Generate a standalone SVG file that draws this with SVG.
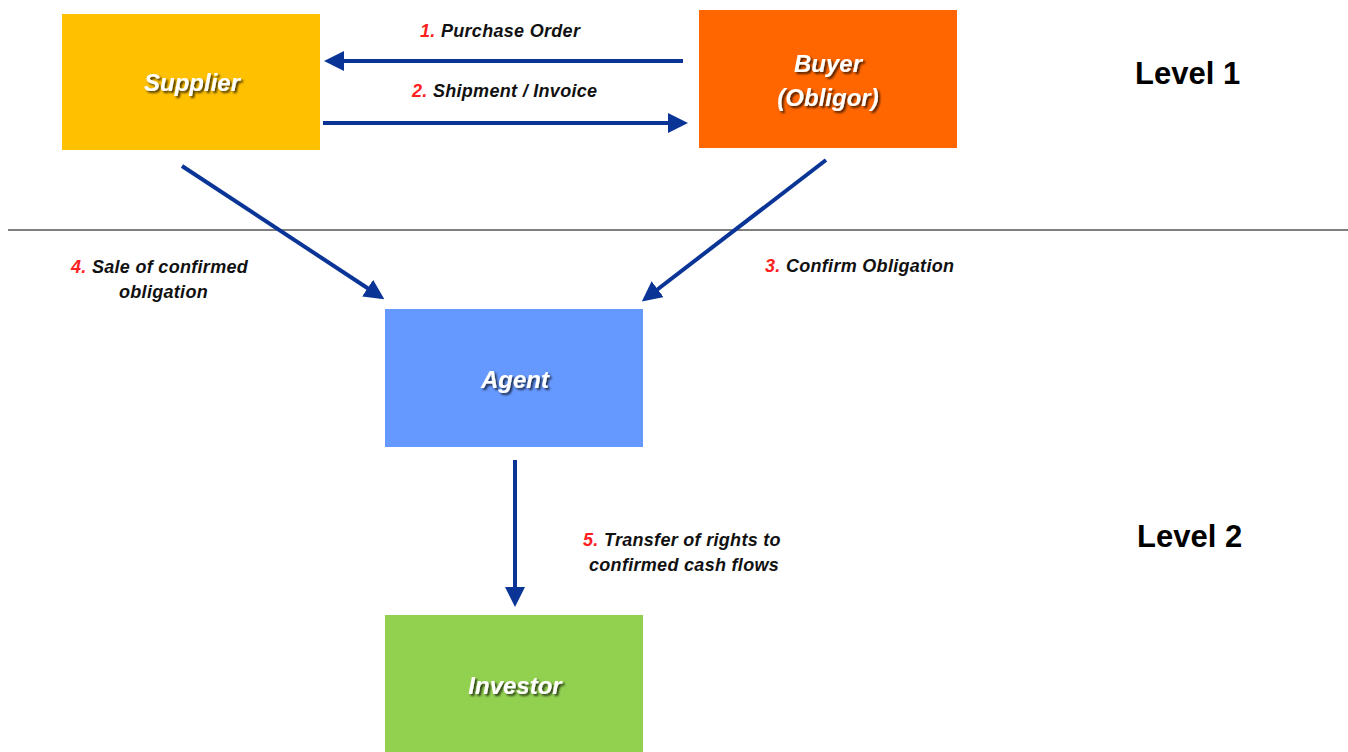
<svg xmlns="http://www.w3.org/2000/svg" width="1348" height="752" viewBox="0 0 1348 752">
<style>
.node{font-family:"Liberation Sans",Arial,sans-serif;font-weight:bold;font-style:italic;font-size:24px;fill:#fff;text-anchor:middle}
.lbl{font-family:"Liberation Sans",Arial,sans-serif;font-weight:bold;font-style:italic;font-size:18px;letter-spacing:0.3px;fill:#111}
.num{fill:#ff2020}
.lvl{font-family:"Liberation Sans",Arial,sans-serif;font-weight:bold;font-size:31px;fill:#000}
.conn{stroke:#0a3596;stroke-width:4;fill:none;marker-end:url(#ah)}
</style>
<defs>
<marker id="ah" markerWidth="5" markerHeight="5" refX="4" refY="2.5" orient="auto" markerUnits="strokeWidth">
<path d="M0,0 L5,2.5 L0,5 z" fill="#0a3596"/>
</marker>
<filter id="sh" x="-20%" y="-20%" width="140%" height="140%">
<feDropShadow dx="2" dy="2" stdDeviation="1" flood-color="#000" flood-opacity="0.7"/>
</filter>
</defs>
<rect width="1348" height="752" fill="#fff"/>
<line x1="8" y1="230" x2="1348" y2="230" stroke="#555" stroke-width="1.5"/>
<g id="supplier"><rect x="62" y="14" width="258" height="136" fill="#ffc000"/><text class="node" x="192" y="91" filter="url(#sh)">Supplier</text></g>
<g id="buyer"><rect x="699" y="10" width="258" height="138" fill="#ff6600"/><text class="node" x="828" y="72" filter="url(#sh)">Buyer</text><text class="node" x="828" y="106" filter="url(#sh)">(Obligor)</text></g>
<g id="agent"><rect x="385" y="309" width="258" height="138" fill="#6699ff"/><text class="node" x="515" y="388" filter="url(#sh)">Agent</text></g>
<g id="investor"><rect x="385" y="615" width="258" height="137" fill="#92d050"/><text class="node" x="515" y="694" filter="url(#sh)">Investor</text></g>
<g id="connectors">
<line class="conn" x1="683" y1="61" x2="328" y2="61"/>
<line class="conn" x1="323" y1="123" x2="684" y2="123"/>
<line class="conn" x1="182" y1="166" x2="381" y2="297"/>
<line class="conn" x1="826" y1="160" x2="645" y2="299"/>
<line class="conn" x1="515" y1="460" x2="515" y2="603"/>
</g>
<g id="labels">
<text class="lbl" x="420" y="37"><tspan class="num">1.</tspan>  Purchase Order</text>
<text class="lbl" x="412" y="97"><tspan class="num">2.</tspan> Shipment / Invoice</text>
<text class="lbl" x="71" y="273"><tspan class="num">4.</tspan>  Sale of confirmed</text>
<text class="lbl" x="119" y="298">obligation</text>
<text class="lbl" x="765" y="272"><tspan class="num">3.</tspan>  Confirm Obligation</text>
<text class="lbl" x="583" y="546"><tspan class="num">5.</tspan> Transfer of rights to</text>
<text class="lbl" x="589" y="571">confirmed cash flows</text>
<text class="lvl" x="1135" y="84">Level 1</text>
<text class="lvl" x="1137" y="547">Level 2</text>
</g>
</svg>
